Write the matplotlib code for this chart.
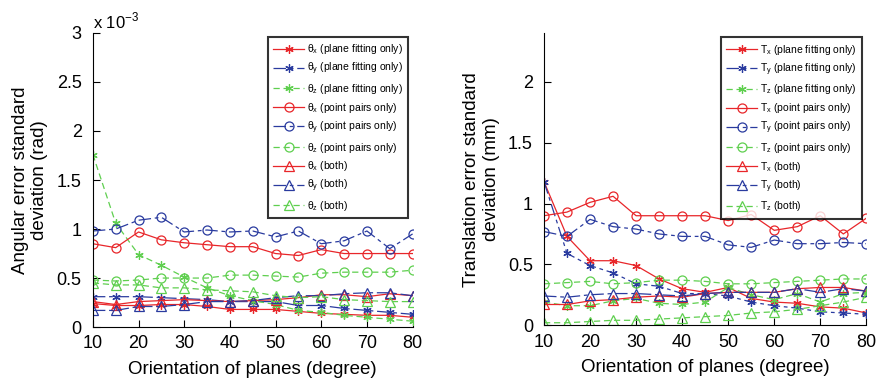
import matplotlib
matplotlib.use("Agg")
import matplotlib.pyplot as plt
import numpy as np

plt.rcParams['font.family'] = ['Liberation Sans', 'DejaVu Sans']

angles = [10, 15, 20, 25, 30, 35, 40, 45, 50, 55, 60, 65, 70, 75, 80]

# angular error std (x 1e-3 rad)
rx_plane = [0.24, 0.22, 0.22, 0.23, 0.23, 0.21, 0.18, 0.18, 0.18, 0.16, 0.14, 0.13, 0.12, 0.12, 0.10]
ry_plane = [0.31, 0.31, 0.31, 0.30, 0.29, 0.28, 0.26, 0.26, 0.26, 0.22, 0.22, 0.19, 0.17, 0.15, 0.13]
rz_plane = [1.76, 1.06, 0.74, 0.63, 0.51, 0.40, 0.32, 0.27, 0.23, 0.17, 0.15, 0.12, 0.10, 0.08, 0.06]
rx_pairs = [0.85, 0.81, 0.97, 0.89, 0.86, 0.84, 0.82, 0.82, 0.75, 0.73, 0.79, 0.75, 0.75, 0.75, 0.75]
ry_pairs = [0.98, 1.00, 1.09, 1.12, 0.97, 0.99, 0.97, 0.98, 0.92, 0.98, 0.85, 0.88, 0.98, 0.80, 0.95]
rz_pairs = [0.48, 0.47, 0.48, 0.50, 0.50, 0.50, 0.53, 0.53, 0.52, 0.51, 0.55, 0.56, 0.56, 0.56, 0.58]
rx_both = [0.26, 0.23, 0.26, 0.27, 0.28, 0.27, 0.26, 0.27, 0.28, 0.30, 0.33, 0.33, 0.31, 0.34, 0.32]
ry_both = [0.17, 0.17, 0.21, 0.21, 0.23, 0.26, 0.26, 0.27, 0.30, 0.32, 0.32, 0.34, 0.35, 0.35, 0.32]
rz_both = [0.45, 0.43, 0.43, 0.40, 0.40, 0.38, 0.37, 0.36, 0.32, 0.30, 0.31, 0.28, 0.27, 0.26, 0.26]

# translation error std (mm)
tx_plane = [1.18, 0.73, 0.53, 0.53, 0.49, 0.38, 0.30, 0.27, 0.31, 0.22, 0.19, 0.18, 0.15, 0.14, 0.10]
ty_plane = [1.18, 0.59, 0.49, 0.43, 0.34, 0.32, 0.26, 0.26, 0.24, 0.19, 0.16, 0.14, 0.11, 0.10, 0.09]
tz_plane = [0.19, 0.16, 0.16, 0.20, 0.22, 0.18, 0.17, 0.19, 0.31, 0.25, 0.21, 0.26, 0.19, 0.26, 0.27]
tx_pairs = [0.90, 0.93, 1.01, 1.06, 0.90, 0.90, 0.90, 0.90, 0.86, 0.91, 0.78, 0.81, 0.90, 0.75, 0.88]
ty_pairs = [0.77, 0.73, 0.87, 0.81, 0.79, 0.75, 0.73, 0.73, 0.66, 0.64, 0.70, 0.67, 0.67, 0.68, 0.67]
tz_pairs = [0.34, 0.35, 0.36, 0.34, 0.35, 0.37, 0.37, 0.36, 0.34, 0.34, 0.35, 0.36, 0.37, 0.38, 0.38]
tx_both = [0.17, 0.17, 0.20, 0.21, 0.23, 0.24, 0.23, 0.26, 0.27, 0.27, 0.27, 0.30, 0.31, 0.31, 0.28]
ty_both = [0.24, 0.23, 0.25, 0.26, 0.26, 0.25, 0.24, 0.26, 0.27, 0.27, 0.27, 0.30, 0.27, 0.30, 0.28]
tz_both = [0.02, 0.02, 0.03, 0.04, 0.04, 0.05, 0.06, 0.07, 0.08, 0.10, 0.11, 0.13, 0.16, 0.19, 0.23]

methods = ['plane fitting only', 'point pairs only', 'both']

red = '#e8262a'
blue = '#2a3b9f'
green = '#5fcf4f'
markers = [(6, 2, 0), 'o', '^']
msizes = [6, 6.5, 7]
styles = {'x': (red, '-'), 'y': (blue, (0, (10, 3, 3, 3))), 'z': (green, (0, (5, 3)))}


def draw(ax, series, sym):
    for mi, m in enumerate(methods):
        for ax_name in ['x', 'y', 'z']:
            col, ls = styles[ax_name]
            vals = series[(ax_name, mi)]
            ax.plot(angles, vals, color=col, linestyle=ls, linewidth=0.9,
                    marker=markers[mi], markersize=msizes[mi], markerfacecolor='none',
                    markeredgecolor=col, markeredgewidth=0.9,
                    label=r'$\mathregular{%s_{%s}}$ (%s)' % (sym, ax_name, m))
    ax.set_xlim(10, 80)
    ax.set_xticks(range(10, 81, 10))
    for s in ['top', 'right']:
        ax.spines[s].set_visible(False)
    ax.tick_params(direction='in', length=5, labelsize=13, top=False, right=False)
    ax.tick_params(axis='x', pad=6)
    ax.tick_params(axis='y', pad=8)
    ax.set_xlabel('Orientation of planes (degree)', fontsize=13.5, labelpad=6)
    leg = ax.legend(loc='upper right', fontsize=7.5, frameon=True, fancybox=False,
                    handlelength=3.0, borderpad=0.5, labelspacing=0.45, numpoints=1,
                    bbox_to_anchor=(1.0, 1.0), handletextpad=0.3, borderaxespad=0.4)
    leg.get_frame().set_edgecolor('black')
    leg.get_frame().set_linewidth(1.5)


fig = plt.figure(figsize=(8.76, 3.83), dpi=100)
ax1 = fig.add_axes([0.106, 0.146, 0.365, 0.768])
ax2 = fig.add_axes([0.621, 0.151, 0.368, 0.762])

rot = {('x', 0): rx_plane, ('y', 0): ry_plane, ('z', 0): rz_plane,
       ('x', 1): rx_pairs, ('y', 1): ry_pairs, ('z', 1): rz_pairs,
       ('x', 2): rx_both, ('y', 2): ry_both, ('z', 2): rz_both}
trans = {('x', 0): tx_plane, ('y', 0): ty_plane, ('z', 0): tz_plane,
         ('x', 1): tx_pairs, ('y', 1): ty_pairs, ('z', 1): tz_pairs,
         ('x', 2): tx_both, ('y', 2): ty_both, ('z', 2): tz_both}

draw(ax1, rot, r'\theta')
ax1.set_ylim(0, 3)
ax1.set_yticks([0, 0.5, 1, 1.5, 2, 2.5, 3])
ax1.set_yticklabels(['0', '0.5', '1', '1.5', '2', '2.5', '3'])
ax1.set_ylabel('Angular error standard\ndeviation (rad)', fontsize=13.5, labelpad=6)
ax1.text(0.0, 1.015, r'x 10$^{\mathregular{-3}}$', transform=ax1.transAxes, fontsize=12)

draw(ax2, trans, 'T')
ax2.set_ylim(0, 2.4)
ax2.set_yticks([0, 0.5, 1, 1.5, 2])
ax2.set_yticklabels(['0', '0.5', '1', '1.5', '2'])
ax2.set_ylabel('Translation error standard\ndeviation (mm)', fontsize=13.5, labelpad=6)

fig.savefig('out.png', dpi=100)
